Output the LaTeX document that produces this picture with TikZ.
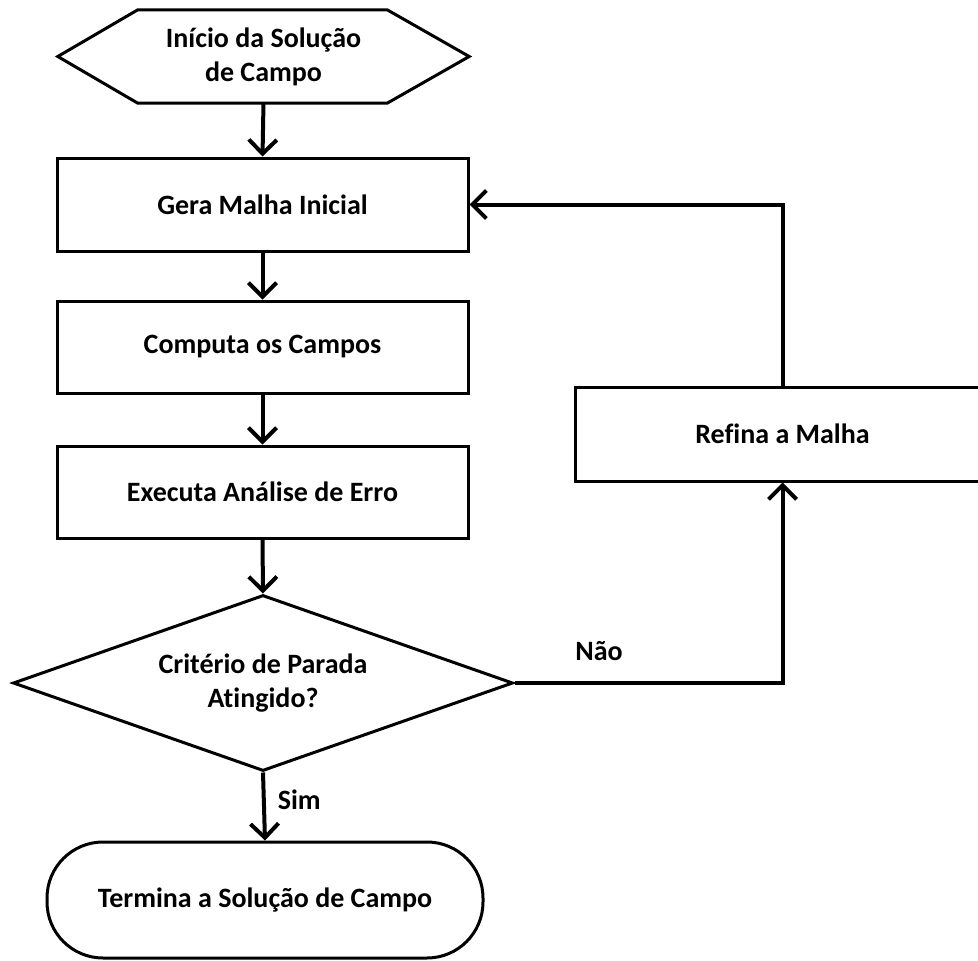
\documentclass[tikz,border=0pt]{standalone}
\usepackage{fontspec}
\setmainfont{Carlito}[Ligatures=CommonOff]
\usetikzlibrary{arrows.meta,shapes.geometric}
\begin{document}
\begin{tikzpicture}[x=1pt,y=-1pt,
  every node/.style={font=\bfseries\fontsize{28}{34}\selectfont, align=center, inner sep=0pt},
  procbox/.style={draw, line width=3pt, rectangle, minimum width=411pt, minimum height=93pt},
  flowline/.style={line width=4pt, -{Straight Barb[length=14pt,width=28pt,line width=4pt]}},
  plainline/.style={line width=4pt}]
\clip (0,0) rectangle (978,961);
% start hexagon
\node[minimum width=411pt, minimum height=93pt] (hex) at (263.5,56.5) {Início da Solução\\de Campo};
\draw[line width=3pt, line join=miter] (hex.west) -- ([xshift=80pt]hex.north west) -- ([xshift=-82pt]hex.north east) -- (hex.east) -- ([xshift=-82pt]hex.south east) -- ([xshift=80pt]hex.south west) -- cycle;
% process boxes
\node[procbox] (gera) at (262.5,204.5) {Gera Malha Inicial};
\node[procbox, minimum height=92pt] (comp) at (262.5,347) {Computa os Campos};
\node[procbox, minimum height=92pt] (exec) at (262.5,492) {Executa Análise de Erro};
% decision
\node[draw, diamond, line width=3pt, minimum width=500pt, minimum height=176pt, aspect=2.8] (dec) at (263,683) {Critério de Parada\\Atingido?};
% terminal
\node[draw, line width=3pt, rectangle, rounded corners=56pt, minimum width=436pt, minimum height=116pt] (term) at (265,900) {Termina a Solução de Campo};
% refine box (right edge runs off the picture)
\node[draw, line width=3pt, rectangle, minimum width=415pt, minimum height=94pt] (ref) at (782.5,434) {Refina a Malha};
% corner coordinates
\coordinate (c1) at (ref.south |- dec.east);
\coordinate (c2) at (ref.north |- gera.east);
% connectors
\draw[flowline] (hex.south) -- (gera.north);
\draw[flowline] (gera.south) -- (comp.north);
\draw[flowline] (comp.south) -- (exec.north);
\draw[flowline] (exec.south) -- (dec.north);
\draw[flowline] (dec.south) -- node[right=12pt, pos=0.4] (sim) {Sim} (term.north);
\draw[flowline, line join=miter] (dec.east) -- (c1) -- (ref.south);
\node (nao) at (599,651) {Não};
\draw[flowline, line join=miter] (ref.north) -- (c2) -- (gera.east);
\end{tikzpicture}
\end{document}
